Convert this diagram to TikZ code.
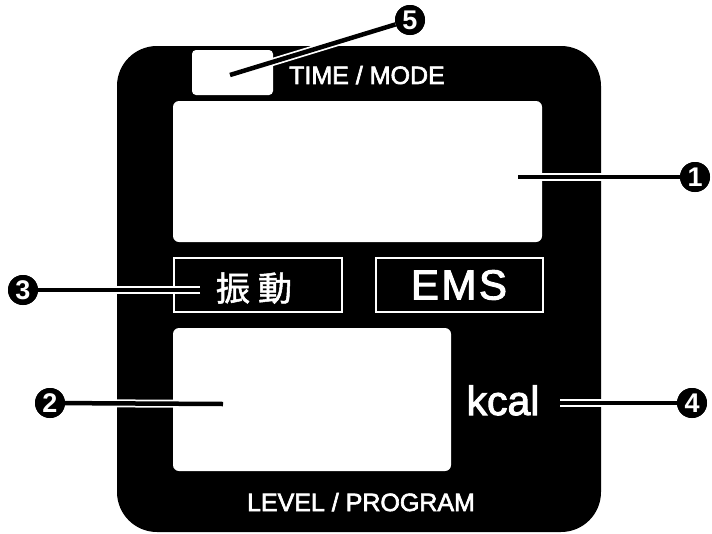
\documentclass[tikz,border=0pt]{standalone}
\usepackage{fontspec}
\setmainfont{Liberation Sans}
\newfontfamily\cjk[FakeBold=1.5]{Noto Sans CJK JP}
\newfontfamily\lbf[FakeBold=2.5]{Liberation Sans}
\begin{document}
\begin{tikzpicture}[x=1pt,y=-1pt,
  panel/.style={fill=black,rounded corners=40pt},
  lcd/.style={fill=white,rounded corners=6pt},
  framebox/.style={draw=white,line width=2.5pt},
  lbl/.style={text=white,font=\lbf\fontsize{25}{25}\selectfont,inner sep=0pt},
  num/.style={circle,fill=black,text=white,minimum size=30pt,inner sep=0pt,font=\fontsize{27}{27}\selectfont\bfseries},
  halo/.style={white,line width=8pt},
  lead/.style={black,line width=4.5pt}
]
\useasboundingbox (0,0) rectangle (712,533);
\path[panel] (117,46) rectangle (601,532);
% small white rect
\path[lcd,rounded corners=4pt] (192,50) rectangle (273,95);
\node[lbl,anchor=west] (tm) at (289,75) {TIME / MODE};
% main display
\path[lcd] (173,101) rectangle (542,242);
\node[inner sep=0pt] (d1) at (357,172) {};
% frames
\draw[framebox] (174,258) rectangle (342,312);
\draw[framebox] (376,258) rectangle (543,312);
\node[text=white,inner sep=0pt,font=\cjk\fontsize{34}{34}\selectfont] (vib) at (254,288) {振\hspace{8pt}動};
\node[text=white,inner sep=0pt,font=\lbf\fontsize{42}{42}\selectfont\addfontfeature{LetterSpace=6}] (ems) at (459,285) {EMS};
% lower display
\path[lcd] (173,328) rectangle (451,471);
\node[text=white,inner sep=0pt,font=\lbf\fontsize{41}{41}\selectfont,anchor=base] (kcal) at (503,415) {kcal};
\node[lbl,anchor=base] (lp) at (361,511) {LEVEL / PROGRAM};
% callouts
\node[num] (n1) at (695,177) {1};
\node[num] (n2) at (50,403) {2};
\node[num] (n3) at (23,290) {3};
\node[num] (n4) at (692,403) {4};
\node[num] (n5) at (410,20) {5};
\coordinate (e1) at (518,177);
\coordinate (e2) at (223,404);
\coordinate (e3) at (200,290);
\coordinate (e4) at (560,403);
\coordinate (e5) at (230,75);
\foreach \a/\b in {e1/n1,e2/n2,e3/n3,e4/n4,e5/n5}{
  \draw[halo] (\a) -- (\b);
}
\foreach \a/\b in {e1/n1,e2/n2,e3/n3,e4/n4,e5/n5}{
  \draw[lead] (\a) -- (\b);
}
\foreach \n/\t in {n1/1,n2/2,n3/3,n4/4,n5/5}{
  \node[num] at (\n) {\t};
}
\end{tikzpicture}
\end{document}
